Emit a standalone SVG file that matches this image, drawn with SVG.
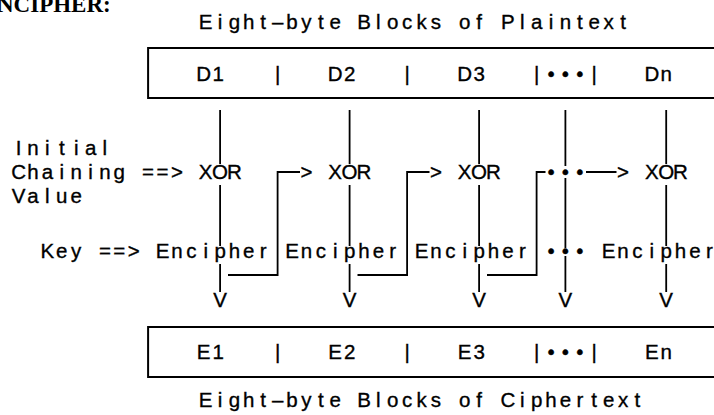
<svg xmlns="http://www.w3.org/2000/svg" width="714" height="415" viewBox="0 0 714 415">
<style>
.t{font-family:"Liberation Sans",Arial,Helvetica,sans-serif;font-size:20.5px;fill:#000;stroke:#000;stroke-width:0.35;text-anchor:middle}
.h{font-family:"Liberation Serif","Times New Roman",serif;font-size:23px;font-weight:bold;fill:#000}
.ln{fill:none;stroke:#000;stroke-width:1.8}
.bx{fill:none;stroke:#000;stroke-width:2}
</style>
<rect width="714" height="415" fill="#fff"/>
<text class="h" x="-3" y="12">NCIPHER:</text>

<g id="plaintext">
<text class="t" x="205.7 220.1 234.5 248.8 263.2 277.6 292.0 306.4 320.8 335.2 349.6 364.0 378.4 392.7 407.1 421.5 435.9 450.3 464.7 479.1 493.5 507.9 522.3 536.6 551.0 565.4 579.8 594.2 608.6 623.0" y="29">Eight–byte Blocks of Plaintext</text>
<path class="bx" d="M716,48 H148.1 V98 H716"/>
<text class="t" x="203.7 218.1" y="81">D1</text>
<text class="t" x="277.6" y="81">|</text>
<text class="t" x="335.2 349.6" y="81">D2</text>
<text class="t" x="407.1" y="81">|</text>
<text class="t" x="464.7 479.1" y="81">D3</text>
<text class="t" x="536.6" y="81">|</text>
<text class="t" x="551.0 565.4 579.8" y="81">•••</text>
<text class="t" x="594.2" y="81">|</text>
<text class="t" x="651.8 666.2" y="81">Dn</text>
</g>

<g id="icv">
<text class="t" x="18.6 33.0 47.4 61.8 76.2 90.6 104.9" y="155">Initial</text>
<text class="t" x="18.6 33.0 47.4 61.8 76.2 90.6 104.9 119.3" y="179">Chaining</text>
<text class="t" x="148.1 162.5 176.9" y="179">==&gt;</text>
<text class="t" x="18.6 33.0 47.4 61.8 76.2" y="203">Value</text>
</g>

<g id="key">
<text class="t" x="47.4 61.8 76.2" y="258">Key</text>
<text class="t" x="104.9 119.3 133.7" y="258">==&gt;</text>
</g>

<g id="xor1"><text class="t" x="205.7 220.1 234.5" y="179">XOR</text></g>
<g id="xor2"><text class="t" x="335.2 349.6 364.0" y="179">XOR</text></g>
<g id="xor3"><text class="t" x="464.7 479.1 493.5" y="179">XOR</text></g>
<g id="xorn"><text class="t" x="651.8 666.2 680.5" y="179">XOR</text></g>

<g id="enc1"><text class="t" x="162.5 176.9 191.3 205.7 220.1 234.5 248.8 263.2" y="258">Encipher</text></g>
<g id="enc2"><text class="t" x="292.0 306.4 320.8 335.2 349.6 364.0 378.4 392.7" y="258">Encipher</text></g>
<g id="enc3"><text class="t" x="421.5 435.9 450.3 464.7 479.1 493.5 507.9 522.3" y="258">Encipher</text></g>
<g id="encn"><text class="t" x="608.6 623.0 637.4 651.8 666.2 680.5 694.9 709.3" y="258">Encipher</text></g>

<g id="ellipsis">
<text class="t" x="551.0 565.4 579.8" y="179">•••</text>
<text class="t" x="551.0 565.4 579.8" y="258">•••</text>
</g>

<g id="connectors">
<path class="ln" d="M220.1,110 V164 M349.6,110 V164 M479.1,110 V164 M565.4,110 V166 M666.2,110 V164"/>
<path class="ln" d="M220.1,185 V246 M349.6,185 V246 M479.1,185 V246 M565.4,178 V248 M666.2,185 V246"/>
<path class="ln" d="M220.1,264 V292 M349.6,264 V292 M479.1,264 V292 M565.4,256 V292 M666.2,264 V292"/>
<path class="ln" d="M228,275 H277.6 V172 H300"/>
<path class="ln" d="M357.5,275 H407.1 V172 H429.5"/>
<path class="ln" d="M487,275 H536.6 V172 H545.5 M586,172 H616.5"/>
<text class="t" x="306.4" y="179">&gt;</text>
<text class="t" x="435.9" y="179">&gt;</text>
<text class="t" x="623.0" y="179">&gt;</text>
<text class="t" x="220.1" y="307">V</text>
<text class="t" x="349.6" y="307">V</text>
<text class="t" x="479.1" y="307">V</text>
<text class="t" x="565.4" y="307">V</text>
<text class="t" x="666.2" y="307">V</text>
</g>

<g id="ciphertext">
<path class="bx" d="M716,327 H148.1 V377 H716"/>
<text class="t" x="203.7 218.1" y="359">E1</text>
<text class="t" x="277.6" y="359">|</text>
<text class="t" x="335.2 349.6" y="359">E2</text>
<text class="t" x="407.1" y="359">|</text>
<text class="t" x="464.7 479.1" y="359">E3</text>
<text class="t" x="536.6" y="359">|</text>
<text class="t" x="551.0 565.4 579.8" y="359">•••</text>
<text class="t" x="594.2" y="359">|</text>
<text class="t" x="651.8 666.2" y="359">En</text>
<text class="t" x="205.7 220.1 234.5 248.8 263.2 277.6 292.0 306.4 320.8 335.2 349.6 364.0 378.4 392.7 407.1 421.5 435.9 450.3 464.7 479.1 493.5 507.9 522.3 536.6 551.0 565.4 579.8 594.2 608.6 623.0 637.4" y="407">Eight–byte Blocks of Ciphertext</text>
</g>
</svg>
